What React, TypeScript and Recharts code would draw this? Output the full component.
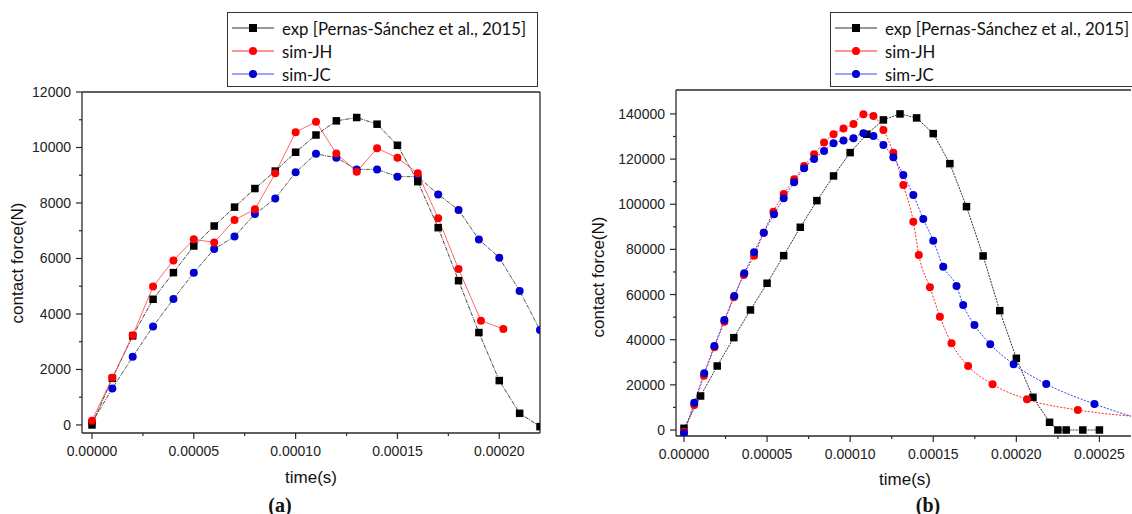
import React from 'react';
import { LineChart, Line, XAxis, YAxis, ReferenceLine } from 'recharts';

// ---- panel (a) ----
const timeA = [
  0, 0.00001, 0.00002, 0.00003, 0.00004, 0.00005, 0.00006, 0.00007, 0.00008, 0.00009, 0.0001,
  0.00011, 0.00012, 0.00013, 0.00014, 0.00015, 0.00016, 0.00017, 0.00018, 0.00019, 0.0002,
  0.00021, 0.00022,
];
const expA = [
  0, 1680, 3210, 4530, 5490, 6450, 7170, 7850, 8520, 9150, 9830, 10450, 10960, 11080, 10840,
  10080, 8770, 7110, 5200, 3330, 1600, 420, -60,
];
const jhTimeA = [
  0, 0.00001, 0.00002, 0.00003, 0.00004, 0.00005, 0.00006, 0.00007, 0.00008, 0.00009, 0.0001,
  0.00011, 0.00012, 0.00013, 0.00014, 0.00015, 0.00016, 0.00017, 0.00018, 0.000191, 0.000202,
];
const jhA = [
  155, 1700, 3230, 4990, 5930, 6690, 6580, 7390, 7770, 9070, 10550, 10930, 9780, 9130, 9970,
  9630, 9070, 7450, 5620, 3760, 3460,
];
const jcA = [
  97, 1310, 2460, 3550, 4540, 5490, 6340, 6790, 7600, 8160, 9110, 9770, 9630, 9210, 9210, 8950,
  8950, 8310, 7750, 6680, 6030, 4830, 3420,
];

// ---- panel (b) ----
const expTimeB = [
  0, 0.00001, 0.00002, 0.00003, 0.00004, 0.00005, 0.00006, 0.00007, 0.00008, 0.00009, 0.0001,
  0.00011, 0.00012, 0.00013, 0.00014, 0.00015, 0.00016, 0.00017, 0.00018, 0.00019, 0.0002,
  0.00021, 0.00022, 0.000225, 0.00023, 0.00024, 0.00025,
];
const expB = [
  750, 15060, 28350, 40900, 53170, 65000, 77230, 89800, 101600, 112540, 122860, 131000, 137350,
  140000, 138240, 131280, 117990, 98940, 77100, 52860, 31770, 14490, 3410, 0, 0, 0, 0,
];
const jhTimeB = [
  0, 0.0000062, 0.000012, 0.0000183, 0.0000243, 0.00003, 0.000036, 0.0000422, 0.000048,
  0.0000538, 0.00006, 0.0000663, 0.0000723, 0.0000783, 0.0000843, 0.00009, 0.000096, 0.000102,
  0.000108, 0.000114, 0.00012, 0.000126, 0.000132, 0.000138, 0.0001413, 0.000148, 0.000154,
  0.000161, 0.000171, 0.0001857, 0.0002064, 0.000237, 0.000275,
];
const jhB = [
  -800, 11080, 24060, 36640, 47980, 58800, 68680, 77230, 87420, 96720, 104560, 111070, 116970,
  122150, 127300, 131000, 133500, 135580, 139880, 139120, 132920, 122860, 108550, 92290, 77540,
  63220, 50200, 38410, 28350, 20250, 13600, 8860, 5820,
];
const jcTimeB = [
  0, 0.0000062, 0.0000122, 0.0000183, 0.0000243, 0.0000303, 0.0000363, 0.0000422, 0.000048,
  0.0000542, 0.00006, 0.0000663, 0.0000723, 0.0000783, 0.0000843, 0.00009, 0.000096, 0.000102,
  0.000108, 0.000114, 0.00012, 0.000126, 0.000132, 0.000138, 0.000144, 0.00015, 0.000156,
  0.000164, 0.000168, 0.0001748, 0.0001843, 0.0001984, 0.000218, 0.000247, 0.000275,
];
const jcB = [
  -1460, 12100, 25120, 37220, 48740, 59370, 69420, 78730, 87420, 95570, 102660, 109750, 115950,
  120070, 123620, 127030, 128180, 129240, 131460, 130260, 126270, 120820, 112980, 104120, 93490,
  83880, 72360, 63800, 55380, 46520, 37970, 29110, 20380, 11520, 4750,
];

const xTicksA = [0, 0.000025, 0.00005, 0.000075, 0.0001, 0.000125, 0.00015, 0.000175, 0.0002];
const xTicksB = [...xTicksA, 0.000225, 0.00025];
const yTicksA = [0, 1000, 2000, 3000, 4000, 5000, 6000, 7000, 8000, 9000, 10000, 11000, 12000];
const yTicksB = [
  0, 10000, 20000, 30000, 40000, 50000, 60000, 70000, 80000, 90000, 100000, 110000, 120000,
  130000, 140000,
];

const legendNames = ['exp [Pernas-Sánchez et al., 2015]', 'sim-JH', 'sim-JC'];

const toRows = (t: number[], v: number[]) => t.map((x, i) => ({ t: x, f: v[i] }));

const AXIS = '#2a2a2a';
const FONT = '"Liberation Sans", Arial, sans-serif';

const isStep = (v: number, step: number) => Math.abs(v / step - Math.round(v / step)) < 1e-6;

const XTick = (props: any) => {
  const { x, y, payload } = props;
  const major = isStep(payload.value, 0.00005);
  return (
    <g>
      <line x1={x} x2={x} y1={y} y2={y + (major ? 6 : 3)} stroke={AXIS} strokeWidth={1.2} />
      {major && (
        <text x={x} y={y + 18} textAnchor="middle" dominantBaseline="central" fontSize={14} fontFamily={FONT} fill="#222">
          {payload.value.toFixed(5)}
        </text>
      )}
    </g>
  );
};

const makeYTick = (step: number) => (props: any) => {
  const { x, y, payload } = props;
  const major = isStep(payload.value, step);
  return (
    <g>
      <line x1={x} x2={x - (major ? 6 : 3)} y1={y} y2={y} stroke={AXIS} strokeWidth={1.2} />
      {major && (
        <text x={x - 11} y={y} textAnchor="end" dominantBaseline="central" fontSize={14} fontFamily={FONT} fill="#222">
          {payload.value}
        </text>
      )}
    </g>
  );
};

const squareDot = (size: number) => (p: any) => (
  <rect key={`s${p.index}`} x={p.cx - size / 2} y={p.cy - size / 2} width={size} height={size} fill="#000" />
);
const circleDot = (color: string, r: number) => (p: any) => (
  <circle key={`c${p.index}`} cx={p.cx} cy={p.cy} r={r} fill={color} />
);

function LegendBox({ left, width }: { left: number; width: number }) {
  const colors = ['#333', '#ff2a2a', '#3a4aff'];
  const marks = ['#000', '#ff0000', '#0000d0'];
  return (
    <div
      style={{
        position: 'absolute',
        left,
        top: 12,
        width,
        height: 73,
        border: '1px solid #333',
        background: '#fff',
        fontFamily: 'Lato, "Open Sans", sans-serif',
        fontSize: 16.8,
        color: '#111',
      }}
    >
      {legendNames.map((name, i) => (
        <div key={name} style={{ position: 'absolute', left: 4, top: 4 + i * 23, height: 22, display: 'flex', alignItems: 'center' }}>
          <svg width={44} height={12}>
            <line x1={0} x2={42} y1={6} y2={6} stroke={colors[i]} strokeWidth={1.2} />
            {i === 0 ? (
              <rect x={17} y={2} width={8} height={8} fill={marks[i]} />
            ) : (
              <circle cx={21} cy={6} r={4} fill={marks[i]} />
            )}
          </svg>
          <span style={{ marginLeft: 6, whiteSpace: 'nowrap' }}>{name}</span>
        </div>
      ))}
    </div>
  );
}

const textStyle: React.CSSProperties = {
  position: 'absolute',
  fontFamily: FONT,
  fontSize: 17,
  color: '#111',
  whiteSpace: 'nowrap',
  transform: 'translate(-50%, -50%)',
};
const yTitle: React.CSSProperties = { ...textStyle, transform: 'translate(-50%, -50%) rotate(-90deg)' };
const panelTag: React.CSSProperties = {
  ...textStyle,
  fontFamily: '"Liberation Serif", "Times New Roman", serif',
  fontWeight: 'bold',
  fontSize: 20,
};

export default function App() {
  return (
    <div style={{ position: 'fixed', left: 0, top: 0, width: 1132, height: 514, background: '#fff', overflow: 'hidden' }}>
      {/* panel (a) */}
      <div style={{ position: 'absolute', left: 0, top: 0 }}>
        <LineChart width={560} height={514} margin={{ top: 92, right: 20, bottom: 0, left: 0 }}>
          <XAxis
            type="number"
            dataKey="t"
            domain={[-0.0000049, 0.00022]}
            allowDataOverflow
            ticks={xTicksA}
            interval={0}
            tickSize={0}
            tickMargin={0}
            tickLine={false}
            tick={XTick}
            height={81}
            stroke={AXIS}
            strokeWidth={1.3}
          />
          <YAxis
            type="number"
            domain={[-290, 12000]}
            allowDataOverflow
            ticks={yTicksA}
            interval={0}
            tickSize={0}
            tickMargin={0}
            tickLine={false}
            tick={makeYTick(2000)}
            width={82}
            stroke={AXIS}
            strokeWidth={1.3}
          />
          <ReferenceLine y={12000} stroke={AXIS} strokeWidth={1.3} />
          <ReferenceLine x={0.00022} stroke={AXIS} strokeWidth={1.3} />
          <Line data={toRows(timeA, jcA)} dataKey="f" type="linear" stroke="#555" strokeWidth={1} strokeDasharray="4 1 1 1" dot={circleDot('#0000d0', 4)} isAnimationActive={false} />
          <Line data={toRows(timeA, expA)} dataKey="f" type="linear" stroke="#444" strokeWidth={1} strokeDasharray="4 1 1 1" dot={squareDot(7.5)} isAnimationActive={false} />
          <Line data={toRows(jhTimeA, jhA)} dataKey="f" type="linear" stroke="#ff4040" strokeWidth={0.8} dot={circleDot('#ff0000', 4)} isAnimationActive={false} />
        </LineChart>
      </div>

      {/* panel (b) */}
      <div style={{ position: 'absolute', left: 566, top: 0 }}>
        <LineChart width={566} height={514} margin={{ top: 90, right: 1, bottom: 0, left: 0 }}>
          <XAxis
            type="number"
            dataKey="t"
            domain={[-0.0000048, 0.000269]}
            allowDataOverflow
            ticks={xTicksB}
            interval={0}
            tickSize={0}
            tickMargin={0}
            tickLine={false}
            tick={XTick}
            height={78}
            stroke={AXIS}
            strokeWidth={1.3}
          />
          <YAxis
            type="number"
            domain={[-2660, 150600]}
            allowDataOverflow
            ticks={yTicksB}
            interval={0}
            tickSize={0}
            tickMargin={0}
            tickLine={false}
            tick={makeYTick(20000)}
            width={110}
            stroke={AXIS}
            strokeWidth={1.3}
          />
          <ReferenceLine y={150600} stroke={AXIS} strokeWidth={1.6} />
          <Line data={toRows(expTimeB, expB)} dataKey="f" type="linear" stroke="#333" strokeWidth={1} strokeDasharray="2 1" dot={squareDot(7.5)} isAnimationActive={false} />
          <Line data={toRows(jhTimeB, jhB)} dataKey="f" type="monotone" stroke="#ff2a2a" strokeWidth={1} strokeDasharray="2 1.5" dot={circleDot('#ff0000', 4)} isAnimationActive={false} />
          <Line data={toRows(jcTimeB, jcB)} dataKey="f" type="monotone" stroke="#3040ff" strokeWidth={1} strokeDasharray="2 1.5" dot={circleDot('#0000d0', 4)} isAnimationActive={false} />
        </LineChart>
      </div>

      <LegendBox left={227} width={309} />
      <LegendBox left={830} width={301} />

      <div style={{ ...yTitle, left: 18, top: 263 }}>contact force(N)</div>
      <div style={{ ...yTitle, left: 599, top: 277 }}>contact force(N)</div>
      <div style={{ ...textStyle, left: 311, top: 478 }}>time(s)</div>
      <div style={{ ...textStyle, left: 905, top: 480 }}>time(s)</div>
      <div style={{ ...panelTag, left: 280, top: 505 }}>(a)</div>
      <div style={{ ...panelTag, left: 928, top: 505 }}>(b)</div>
    </div>
  );
}
